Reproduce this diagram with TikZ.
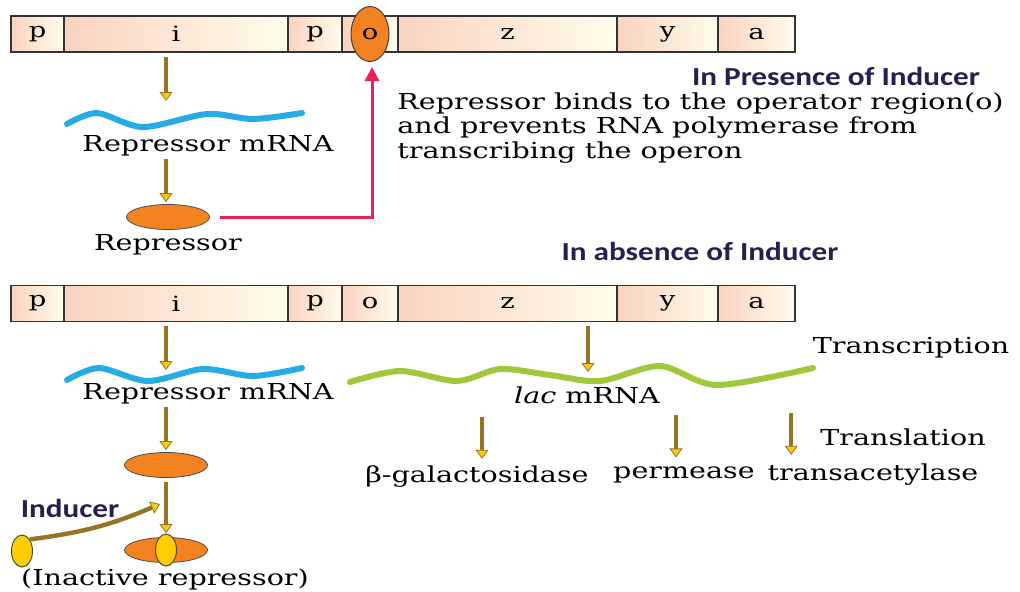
\documentclass[tikz,border=0pt]{standalone}
\usepackage{fontspec}
\setmainfont{DejaVu Serif}[FakeStretch=1.3]
\newfontfamily\capfont{Carlito}[FakeStretch=1.2]
\usetikzlibrary{shapes.geometric,arrows.meta,calc}

\definecolor{geneL}{RGB}{250,210,192}
\definecolor{geneR}{RGB}{255,252,236}
\definecolor{repOrange}{RGB}{243,131,33}
\definecolor{indYellow}{RGB}{255,205,0}
\definecolor{shaft}{RGB}{150,116,36}
\definecolor{tipYellow}{RGB}{255,200,20}
\definecolor{mBlue}{RGB}{38,172,228}
\definecolor{mGreen}{RGB}{160,200,60}
\definecolor{bindRed}{RGB}{238,32,90}
\definecolor{capNavy}{RGB}{40,30,80}

\begin{document}
\begin{tikzpicture}[x=0.5pt, y=-0.5pt,
  gene/.style={draw=black!80, line width=0.7pt, minimum height=18pt, inner sep=0pt,
    left color=geneL, right color=geneR, font=\fontsize{10.5}{11}\selectfont},
  txt/.style={font=\fontsize{11}{12.25}\selectfont, inner sep=1pt},
  captxt/.style={font=\capfont\bfseries\fontsize{13}{14}\selectfont, text=capNavy, inner sep=1pt},
  rep/.style={ellipse, draw=black!70, line width=0.4pt, fill=repOrange,
    minimum width=41.5pt, minimum height=12.5pt, inner sep=0pt},
  ind/.style={ellipse, draw=black!60!olive, line width=0.5pt, fill=indYellow,
    minimum width=10.5pt, minimum height=16pt, inner sep=0pt},
  garrow/.style={draw=shaft, line width=2.2pt,
    -{Triangle[length=4.5pt, width=6.5pt, line width=0.4pt, fill=tipYellow]}},
  mrna/.style={line width=3pt, line cap=round},
]
\useasboundingbox (0,0) rectangle (1020,591);

% ====== Operon bars (top and bottom) ======
\foreach \n/\g/\xa/\xb in {1/p/11/64, 2/i/64/288, 3/p/288/342, 4/o/342/398, 5/z/398/617, 6/y/617/718, 7/a/718/795} {
  \node[gene, minimum width={(\xb-\xa)*0.5pt}] (t\n) at ({(\xa+\xb)/2}, 34) {\g};
  \node[gene, minimum width={(\xb-\xa)*0.5pt}] (b\n) at ({(\xa+\xb)/2}, 303.5) {\g};
}

% ====== Repressor bound to operator (top) ======
\node[ellipse, draw=black!75, line width=0.5pt, fill=repOrange, minimum width=19pt,
  minimum height=27.5pt, inner sep=0pt, font=\fontsize{10.5}{11}\selectfont] (op) at (t4) {o};
\coordinate (w1) at (166,101);
\draw[mrna, mBlue] plot[smooth] coordinates {(67,124) (97,113) (143,127) (207,114) (253,119) (302,113)};
\node[txt] (rm1) at (208,146) {Repressor mRNA};
\node[rep] (r1) at (168,217) {};
\node[txt] (r1t) at (168,245) {Repressor};
\draw[garrow, shorten <=2pt] (t2.south -| w1) -- (w1);
\draw[garrow, shorten >=1pt] (rm1.south -| w1) -- (r1.north -| w1);
\draw[bindRed, line width=1.5pt, -{Triangle[length=7pt, width=7pt]}]
  ([xshift=5pt]r1.east) -| ([xshift=1pt, yshift=-2.5pt]op.south);

\node[captxt] (pres) at (836,76) {In Presence of Inducer};
\node[txt, align=left, anchor=west] (bind) at (395,128)
  {Repressor binds to the operator region(o)\\
   and prevents RNA polymerase from\\
   transcribing the operon};
\node[captxt] (abs) at (700,251) {In absence of Inducer};

% ====== Inducer frees the operator (bottom) ======
\coordinate (w2) at (166,370);
\draw[mrna, mBlue] plot[smooth] coordinates {(67,380) (99,368) (148,381) (203,369) (253,376) (302,368)};
\node[txt] (rm2) at (208,394) {Repressor mRNA};
\node[rep] (r2) at (166,465) {};
\node[rep] (r3) at (166,550) {};
\node[ind] (i2) at (r3) {};
\node[ind] (i1) at (22,551) {};
\node[txt] (r3t) at (165,579) {(Inactive repressor)};
\coordinate (j) at (160,504);
\draw[garrow, shorten <=2pt] (b2.south -| w2) -- (w2);
\draw[garrow, shorten >=1pt] (rm2.south -| w2) -- (r2.north -| w2);
\draw[garrow, shorten <=2pt, shorten >=2pt] (r2.south -| w2) -- (r3.north -| w2);
\node[captxt] (indt) at (70,508) {Inducer};
\draw[garrow] (i1.north east) to[bend right=8] (j);

% ====== lac mRNA and enzymes ======
\coordinate (w3) at (588,372);
\draw[mrna, mGreen] plot[smooth] coordinates {(350,382) (400,371) (457,381) (500,369) (550,375) (600,381) (660,366) (717,385) (813,368)};
\node[txt] (lac) at (587,395) {\textit{lac} mRNA};
\draw[garrow, shorten <=2pt] (b5.south -| w3) -- (w3);
\node[txt] (tcr) at (911,348) {Transcription};
\node[txt] (tln) at (903,437) {Translation};
\node[txt] (bgal) at (477,477) {β-galactosidase};
\node[txt] (perm) at (684,475) {permease};
\node[txt] (tace) at (873,475) {transacetylase};
\draw[garrow] ([xshift=2.5pt, yshift=23.5pt]bgal.north) -- ([xshift=2.5pt, yshift=2.5pt]bgal.north);
\draw[garrow] ([xshift=-4pt, yshift=24.5pt]perm.north) -- ([xshift=-4pt, yshift=3.5pt]perm.north);
\draw[garrow] ([xshift=13pt, yshift=24.5pt]tace.north west) -- ([xshift=13pt, yshift=3.5pt]tace.north west);

\end{tikzpicture}
\end{document}
